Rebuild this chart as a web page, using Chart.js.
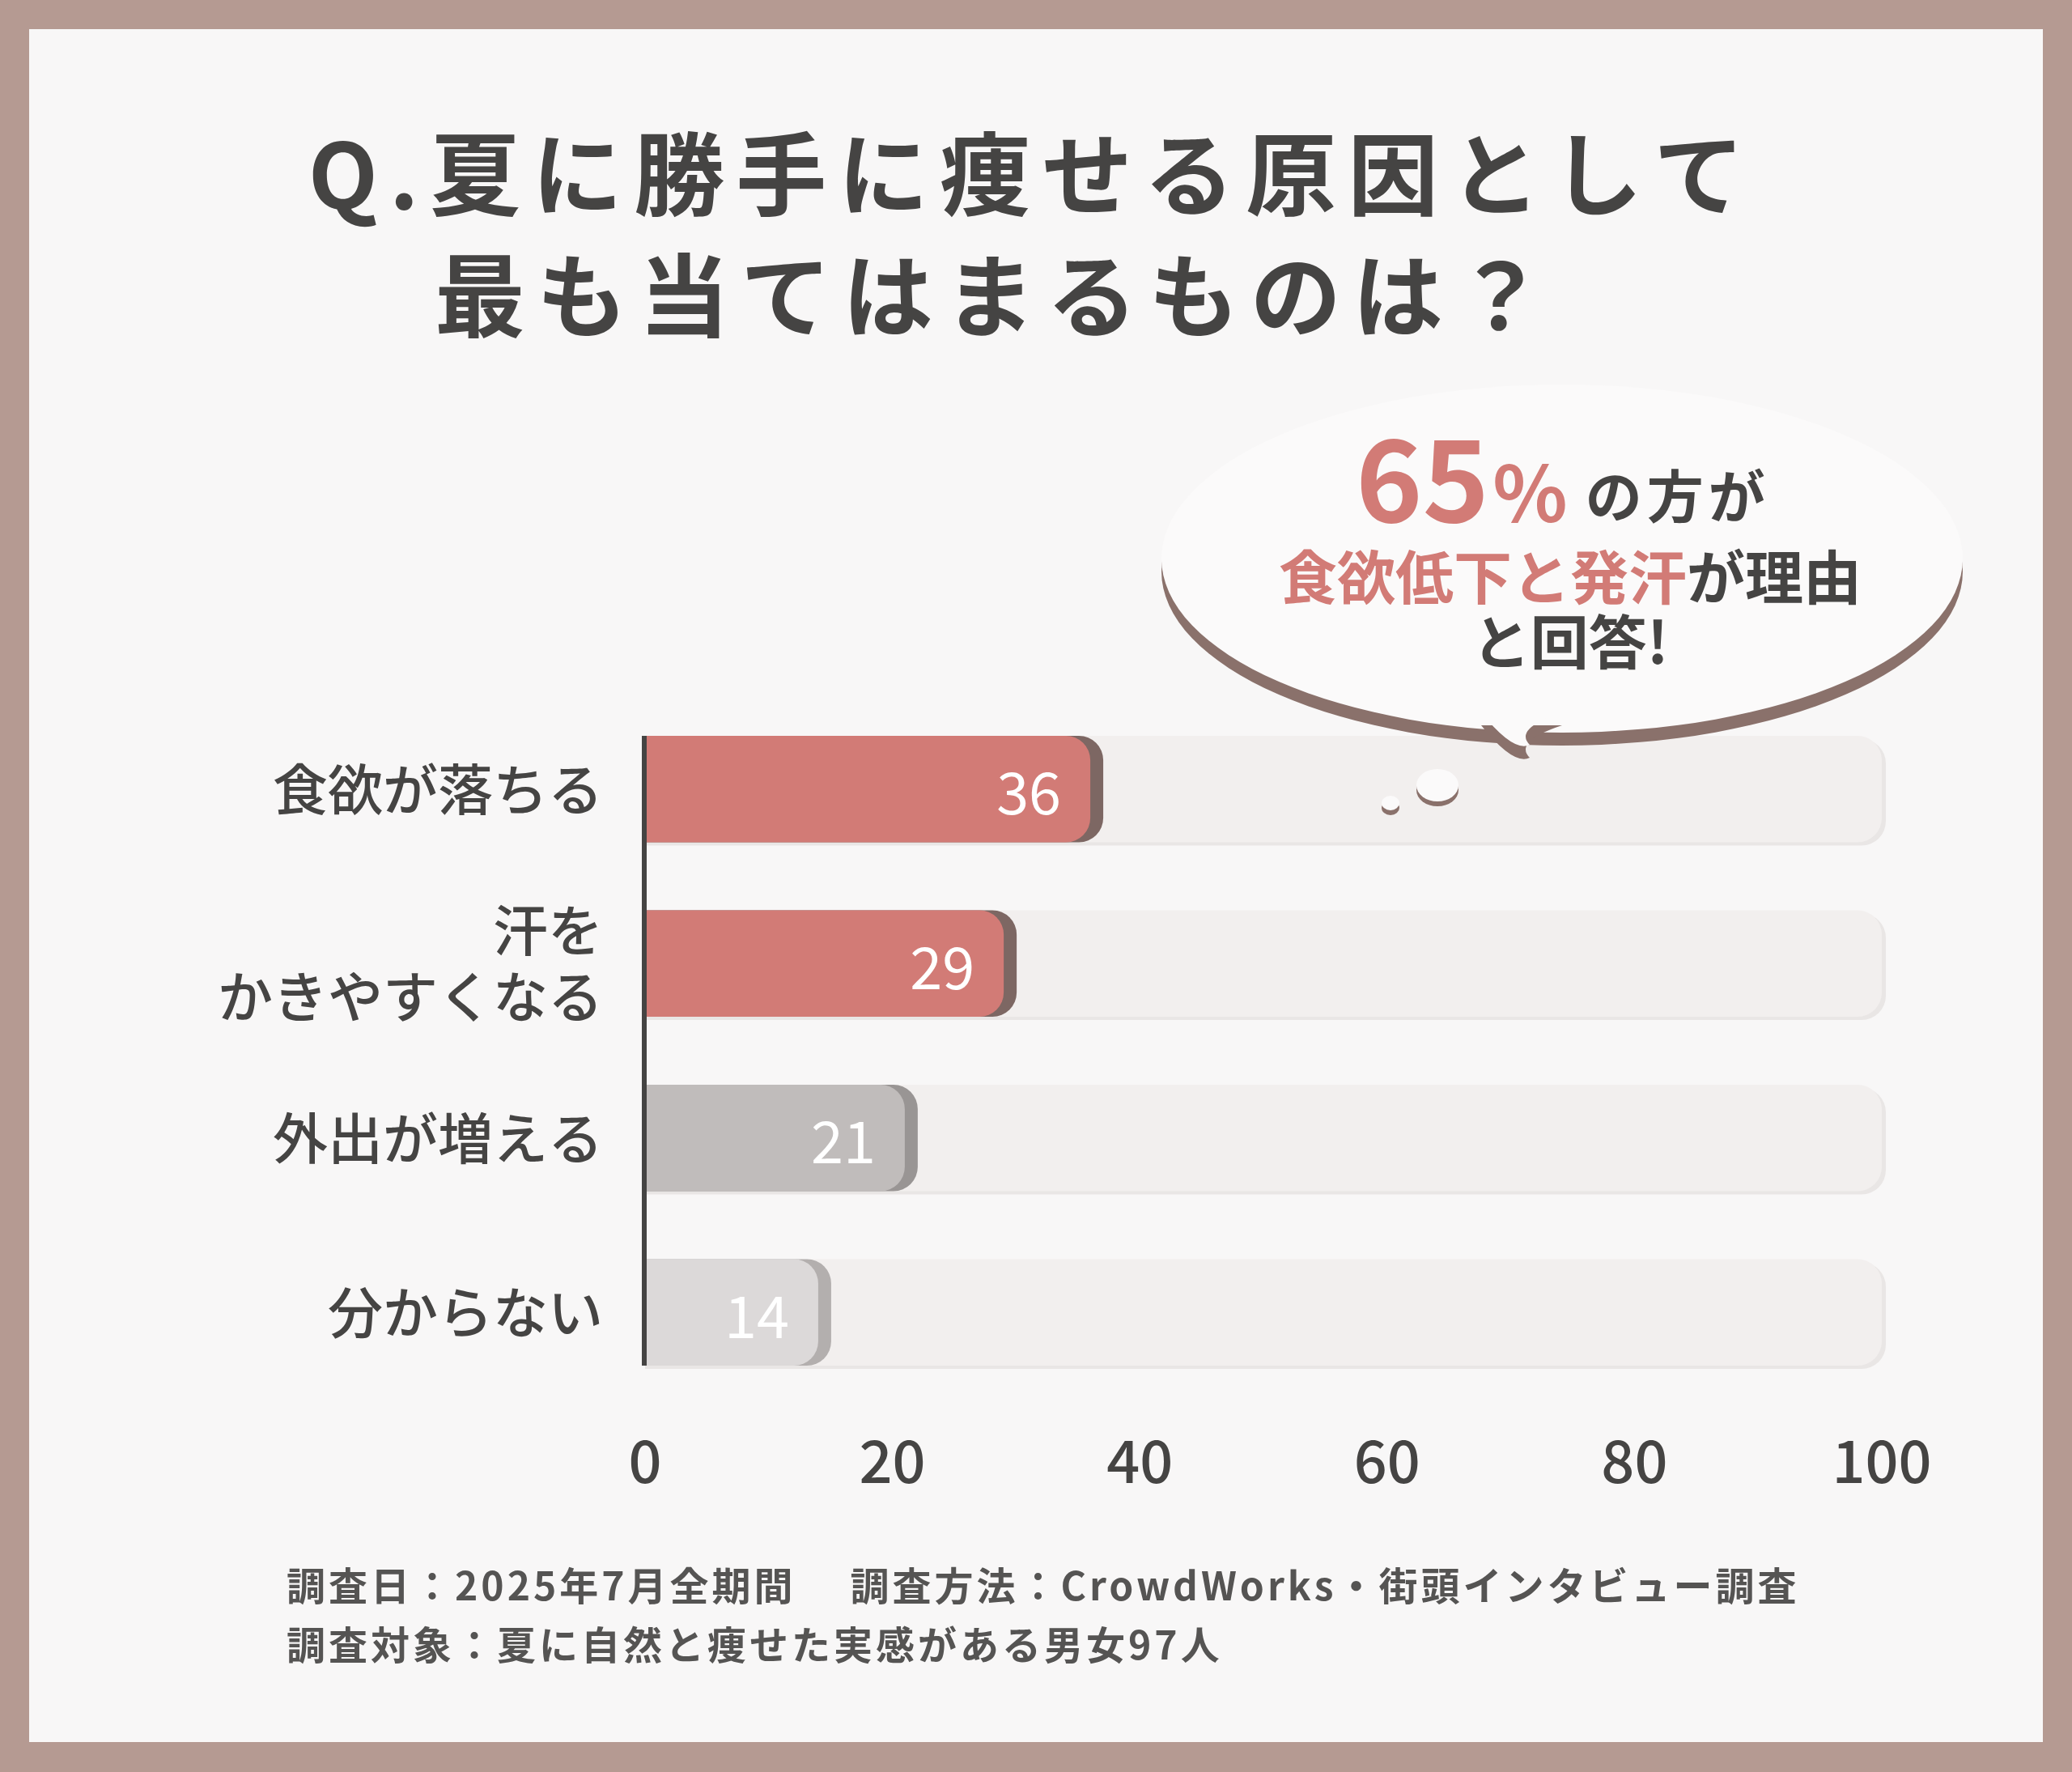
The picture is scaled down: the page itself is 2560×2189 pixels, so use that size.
<!DOCTYPE html>
<html><head><meta charset="utf-8">
<script src="https://cdn.jsdelivr.net/npm/chart.js@4"></script>
<style>html,body{margin:0;padding:0;background:#b59a92}canvas{display:block}</style>
</head><body>
<div style="width:2560px;height:2189px"><canvas id="c"></canvas></div>
<script>
const categories = [['食欲が落ちる'], ['汗を', 'かきやすくなる'], ['外出が増える'], ['分からない']];
const values = [36, 29, 21, 14];
const fullScale = [100, 100, 100, 100];
const barColors = ['#d27b76', '#d27b76', '#c0bcbb', '#dcd9d9'];
const shadowColors = ['#7d6763', '#7d6763', '#999594', '#b3afae'];
const xTicks = [0, 20, 40, 60, 80, 100];

const FONT = '"Noto Sans CJK JP", "Noto Sans", sans-serif';

// 背景・タイトル・吹き出し・注記
const decor = {
  id: 'decor',
  beforeDraw(chart) {
    const ctx = chart.ctx;
    ctx.save();
    ctx.fillStyle = '#b59a92';
    ctx.fillRect(0, 0, 2560, 2189);
    ctx.fillStyle = '#f8f7f7';
    ctx.fillRect(36, 36, 2488, 2116);
    ctx.restore();
  },
  afterDraw(chart) {
    const ctx = chart.ctx;
    ctx.save();
    ctx.fillStyle = '#454443';
    ctx.textAlign = 'center';
    ctx.textBaseline = 'middle';
    ctx.font = 'bold 112px ' + FONT;
    ctx.letterSpacing = '14px';
    ctx.fillText('Q.夏に勝手に痩せる原因として', 1275, 215);
    ctx.fillText('最も当てはまるものは？', 1230, 365);

    // 吹き出し
    ctx.letterSpacing = '0px';
    ctx.shadowColor = '#8a716b';
    ctx.shadowOffsetY = 16;
    ctx.fillStyle = '#fbfafa';
    ctx.beginPath();
    ctx.ellipse(1930, 690, 495, 215, 0, 0, Math.PI * 2);
    ctx.fill();
    ctx.beginPath();
    ctx.moveTo(1830, 880); ctx.quadraticCurveTo(1870, 930, 1890, 920);
    ctx.quadraticCurveTo(1870, 900, 1930, 880); ctx.fill();
    ctx.shadowOffsetY = 6;
    ctx.beginPath(); ctx.ellipse(1776, 970, 26, 20, 0, 0, Math.PI * 2); ctx.fill();
    ctx.beginPath(); ctx.ellipse(1718, 992, 11, 9, 0, 0, Math.PI * 2); ctx.fill();
    ctx.shadowColor = 'transparent';

    ctx.textAlign = 'left';
    ctx.textBaseline = 'alphabetic';
    ctx.fillStyle = '#d27b76';
    ctx.font = 'bold 140px ' + FONT;
    ctx.fillText('65', 1675, 645);
    const w65 = ctx.measureText('65').width;
    ctx.font = 'bold 96px ' + FONT;
    ctx.fillText('%', 1675 + w65 + 4, 645);
    const wp = ctx.measureText('%').width;
    ctx.fillStyle = '#454443';
    ctx.font = 'bold 70px ' + FONT;
    ctx.letterSpacing = '6px';
    ctx.fillText('の方が', 1675 + w65 + wp + 26, 640);
    ctx.letterSpacing = '0px';
    ctx.font = 'bold 72px ' + FONT;
    const a = '食欲低下と発汗', b = 'が理由';
    const wa = ctx.measureText(a).width, wb = ctx.measureText(b).width;
    const x0 = 1940 - (wa + wb) / 2;
    ctx.fillStyle = '#d27b76';
    ctx.fillText(a, x0, 740);
    ctx.fillStyle = '#454443';
    ctx.fillText(b, x0 + wa, 740);
    ctx.textAlign = 'center';
    ctx.fillText('と回答!', 1940, 820);

    // 注記
    ctx.textAlign = 'left';
    ctx.fillStyle = '#555453';
    ctx.font = 'bold 48px ' + FONT;
    ctx.letterSpacing = '4px';
    ctx.fillText('調査日：2025年7月全期間　 調査方法：CrowdWorks・街頭インタビュー調査', 354, 1977);
    ctx.fillText('調査対象：夏に自然と痩せた実感がある男女97人', 354, 2050);
    ctx.restore();
  }
};

// 棒の影と値ラベル
const barShadow = {
  id: 'barShadow',
  beforeDatasetDraw(chart, args) {
    if (args.index !== 1) return;
    const ctx = chart.ctx;
    ctx.save();
    chart.getDatasetMeta(1).data.forEach((el, i) => {
      const { x, y, base, height } = el.getProps(['x', 'y', 'base', 'height'], true);
      ctx.fillStyle = shadowColors[i];
      ctx.beginPath();
      ctx.roundRect(base, y - height / 2, x - base + 16, height, [0, 30, 30, 0]);
      ctx.fill();
    });
    ctx.restore();
  },
  beforeDatasetsDraw(chart) {
    const ctx = chart.ctx;
    ctx.save();
    chart.getDatasetMeta(0).data.forEach(el => {
      const { x, y, base, height } = el.getProps(['x', 'y', 'base', 'height'], true);
      ctx.fillStyle = '#e9e6e5';
      ctx.beginPath();
      ctx.roundRect(base, y - height / 2 + 4, x - base + 5, height, [0, 30, 30, 0]);
      ctx.fill();
    });
    ctx.restore();
  },
  afterDatasetsDraw(chart) {
    const ctx = chart.ctx;
    ctx.save();
    ctx.fillStyle = '#ffffff';
    ctx.font = '72px ' + FONT;
    ctx.textAlign = 'right';
    ctx.textBaseline = 'middle';
    chart.getDatasetMeta(1).data.forEach((el, i) => {
      ctx.fillText(String(values[i]), el.x - 36, el.y + 4);
    });
    const m = chart.getDatasetMeta(0).data;
    const top = m[0].y - m[0].height / 2, bot = m[3].y + m[3].height / 2;
    ctx.fillStyle = '#454443';
    ctx.fillRect(chart.chartArea.left - 4, top, 6, bot - top);
    ctx.restore();
  }
};

new Chart(document.getElementById('c'), {
  type: 'bar',
  data: {
    labels: categories,
    datasets: [
      { data: fullScale, backgroundColor: '#f2efee', borderRadius: { topRight: 30, bottomRight: 30 }, borderSkipped: 'start', order: 2 },
      { data: values, backgroundColor: barColors, borderRadius: { topRight: 30, bottomRight: 30 }, borderSkipped: 'start', order: 1 }
    ]
  },
  options: {
    indexAxis: 'y',
    responsive: true, maintainAspectRatio: false, animation: false,
    grouped: false,
    categoryPercentage: 0.61, barPercentage: 1,
    layout: { padding: { top: 867, right: 235, left: 0, bottom: 0 } },
    plugins: { legend: { display: false }, tooltip: { enabled: false } },
    scales: {
      x: {
        min: 0, max: 100,
        afterBuildTicks: s => { s.ticks = xTicks.map(v => ({ value: v })); },
        afterFit: s => { s.height = 460; },
        grid: { display: false }, border: { display: false },
        ticks: { padding: 24, color: '#454443', font: { family: FONT, size: 72, weight: '500' } }
      },
      y: {
        afterFit: s => { s.width = 797; },
        grid: { display: false }, border: { display: false },
        ticks: { padding: 44, color: '#454443', font: { family: FONT, size: 68, weight: '500' }, lineHeight: 1.35 }
      }
    }
  },
  plugins: [decor, barShadow]
});
</script>
</body></html>
